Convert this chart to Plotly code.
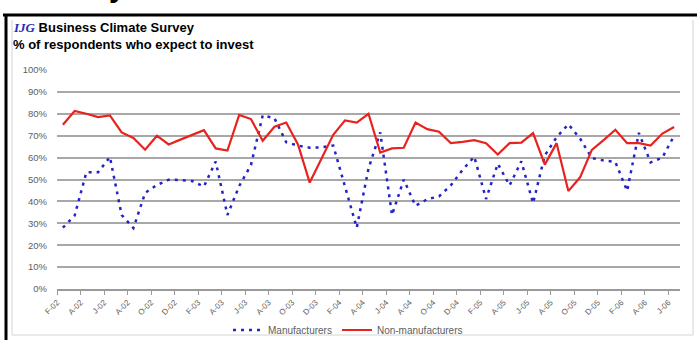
import plotly.graph_objects as go

# Monthly survey results, Feb-2002 .. Jun-2006 (% of respondents who expect to invest)
manufacturers = [
    28, 33.5, 53.3, 53.3, 60.3, 33.8, 27.8, 43.9, 47.5, 49.9,
    49.8, 49.3, 46.8, 58.2, 33.8, 47, 56.6, 79.3, 78, 67,
    65.5, 64.5, 64.7, 65.5, 46.8, 28, 55, 71.5, 33.8, 49.9,
    38, 41, 42.3, 47.3, 54.4, 60.4, 41.1, 57.2, 47.3, 58.3,
    39.2, 61, 69.3, 75.2, 68.7, 59.8, 58.7, 58, 44.8, 71.3,
    57.8, 60, 70,
]
non_manufacturers = [
    75, 81.3, 80, 78.5, 79.3, 71.5, 69, 63.6, 70, 66,
    68.2, 70.4, 72.5, 64.2, 63.2, 79.5, 77.6, 67.7, 74.1, 76,
    66, 48.6, 59.7, 70.4, 77, 76, 80, 62.3, 64.2, 64.5,
    76, 73, 71.8, 66.6, 67.2, 68, 66.6, 61.4, 66.6, 66.8,
    71.2, 56.8, 66.6, 44.7, 51, 63.5, 68, 72.7, 66.6, 66.6,
    65.5, 71, 74,
]
tick_labels = [
    "F-02", "A-02", "J-02", "A-02", "O-02", "D-02",
    "F-03", "A-03", "J-03", "A-03", "O-03", "D-03",
    "F-04", "A-04", "J-04", "A-04", "O-04", "D-04",
    "F-05", "A-05", "J-05", "A-05", "O-05", "D-05",
    "F-06", "A-06", "J-06",
]
pct_ticks = list(range(0, 101, 10))

W, H = 697, 340
ML, MR, MT, MB = 57, 17, 70, 51
PW, PH = W - ML - MR, H - MT - MB


def px_x(p):
    return (p - ML) / PW


def px_y(p):
    return (H - MB - p) / PH


months = list(range(len(manufacturers)))
tick_pos = [2 * k - 0.5 for k in range(len(tick_labels))]

fig = go.Figure()
fig.add_trace(go.Scatter(
    x=months, y=manufacturers, mode="lines", name="Manufacturers",
    line=dict(color="#2323c8", width=2.5, dash="3px,5px"),
))
fig.add_trace(go.Scatter(
    x=months, y=non_manufacturers, mode="lines", name="Non-manufacturers",
    line=dict(color="#e8231f", width=2.2),
))

grey_font = dict(family="Liberation Sans, Arial, sans-serif", size=9.5, color="#5e5e5e")

fig.update_layout(
    width=W, height=H, autosize=False,
    margin=dict(l=ML, r=MR, t=MT, b=MB, pad=0, autoexpand=False),
    paper_bgcolor="white", plot_bgcolor="white",
    showlegend=True,
    legend=dict(
        orientation="h", x=px_x(348), xanchor="center",
        y=px_y(330), yanchor="middle",
        font=dict(grey_font, size=10), bgcolor="rgba(0,0,0,0)",
        itemwidth=30,
    ),
    xaxis=dict(
        range=[-0.5, len(months) - 0.5], automargin=False,
        tickmode="array", tickvals=tick_pos, ticktext=tick_labels,
        tickangle=-45, ticks="outside", ticklen=4, tickwidth=1,
        tickcolor="#9a9a9a", tickfont=dict(grey_font, size=8),
        showline=True, linecolor="#9a9a9a", linewidth=1.5,
        showgrid=False, zeroline=False,
    ),
    yaxis=dict(
        range=[0, 100], automargin=False,
        tickmode="array", tickvals=pct_ticks,
        ticktext=[f"{v}%" for v in pct_ticks],
        tickfont=grey_font, ticks="", ticklabelstandoff=9,
        showgrid=True, gridcolor="#a8a8a8", gridwidth=1.6,
        zeroline=False, showline=False,
    ),
    font=dict(family="Liberation Sans, Arial, sans-serif"),
)

# Frame around the panel
fig.add_shape(type="line", xref="paper", yref="paper",
              x0=px_x(3), x1=px_x(W + 2), y0=px_y(15), y1=px_y(15),
              line=dict(color="black", width=3))
fig.add_shape(type="line", xref="paper", yref="paper",
              x0=px_x(6), x1=px_x(6), y0=px_y(H + 2), y1=px_y(14),
              line=dict(color="black", width=3))
fig.add_shape(type="path", xref="paper", yref="paper",
              path=(f"M {px_x(12)} {px_y(20)} L {px_x(12)} {px_y(335)} "
                    f"L {px_x(693)} {px_y(335)} L {px_x(693)} {px_y(20)}"),
              line=dict(color="#d4d4d4", width=1))

# Heading text
fig.add_annotation(
    xref="paper", yref="paper", x=px_x(11), y=px_y(28),
    xanchor="left", yanchor="middle", showarrow=False,
    text=("<span style='font-family:Liberation Serif, Times New Roman, serif;"
          "color:#2a2ab4'><b><i>IJG</i></b></span> <b>Business Climate Survey</b>"),
    font=dict(family="Liberation Sans, Arial, sans-serif", size=13, color="black"),
)
fig.add_annotation(
    xref="paper", yref="paper", x=px_x(11), y=px_y(44.5),
    xanchor="left", yanchor="middle", showarrow=False,
    text="<b>% of respondents who expect to invest</b>",
    font=dict(family="Liberation Sans, Arial, sans-serif", size=13, color="black"),
)
# Tail of the page heading running off the top edge
fig.add_annotation(
    xref="paper", yref="paper", x=px_x(117), y=px_y(5),
    xanchor="center", yanchor="bottom", showarrow=False,
    text="<b>y</b>",
    font=dict(family="Liberation Sans, Arial, sans-serif", size=30, color="black"),
)

fig.write_html("out.html")
